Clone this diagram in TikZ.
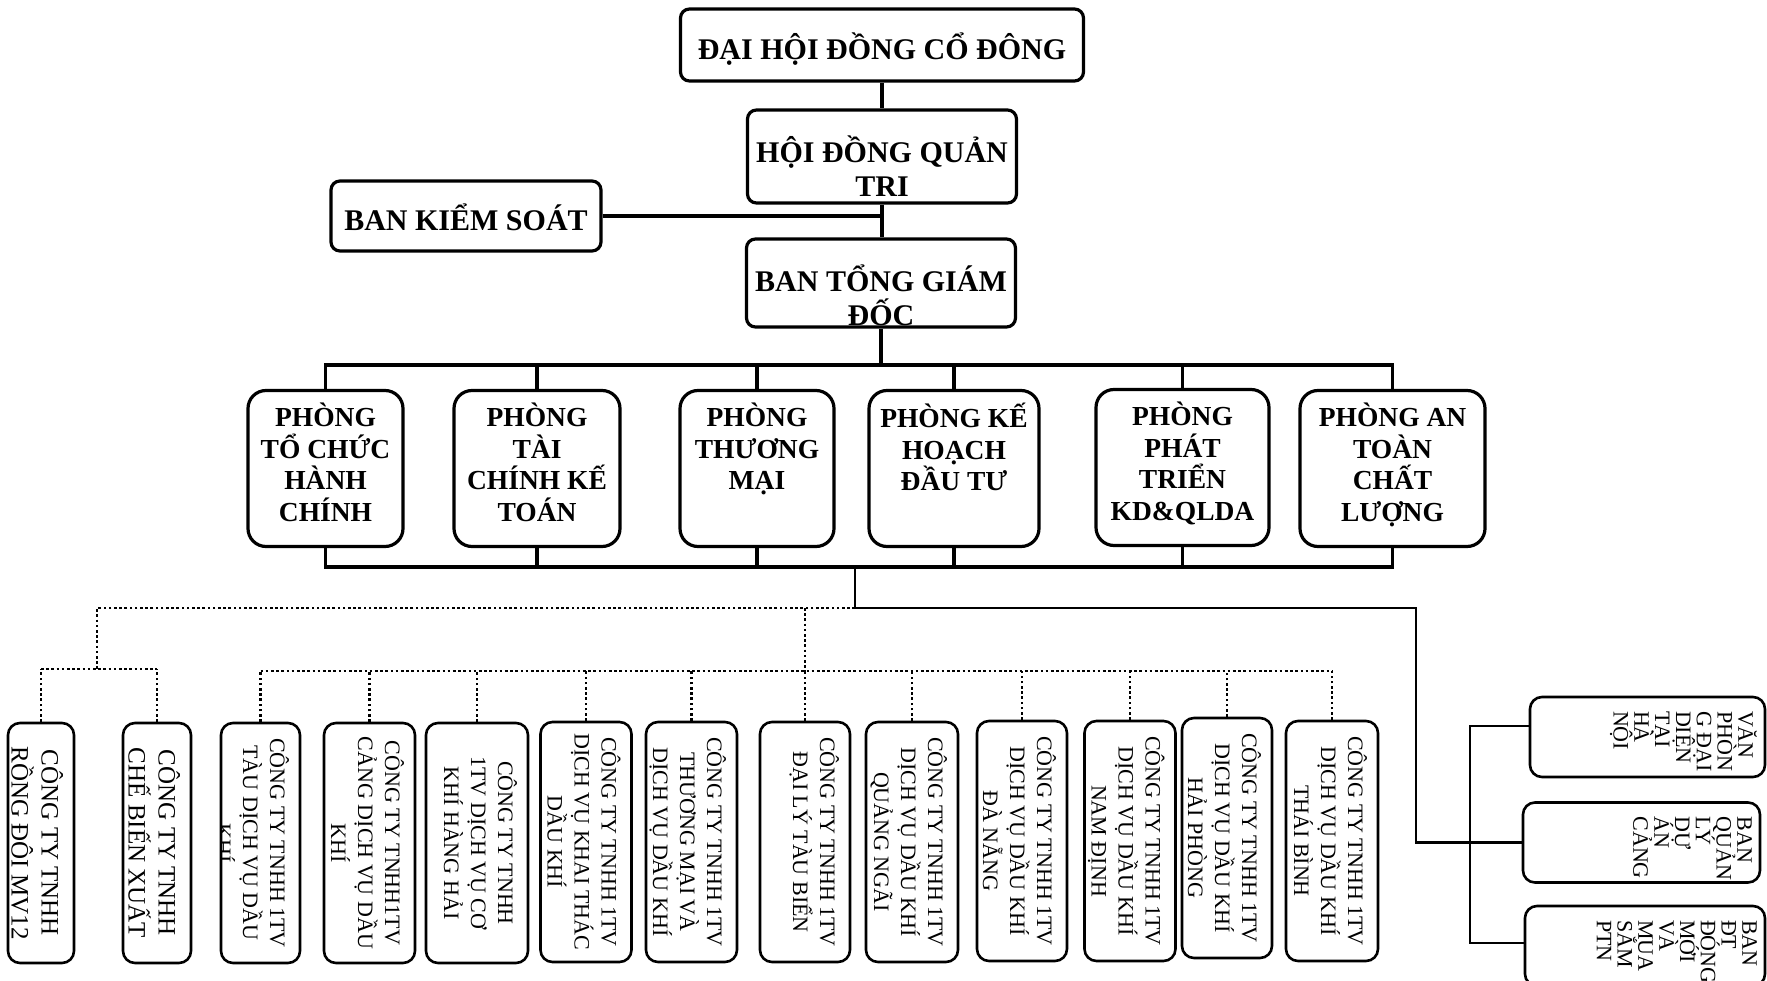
\documentclass[tikz,border=0pt]{standalone}
\usepackage{fontspec}
\setmainfont{Liberation Serif}
\newcommand{\bigfont}{\bfseries\fontsize{30}{34}\selectfont}
\newcommand{\roomfont}{\bfseries\fontsize{27.5}{31.6}\selectfont}
\newcommand{\ctyfont}{\fontsize{22}{27}\selectfont}
\newcommand{\ctybigfont}{\fontsize{25}{30}\selectfont}
\newcommand{\unitfont}{\fontsize{22}{20.8}\selectfont\lineskiplimit=-100pt}
% text set from the top of a box, cut off by its border
\newcommand{\toptext}[4]{\node (#1) [inner sep=0pt] at (path picture bounding box.center)
  {\parbox[c][#2][t]{#3}{\bigfont\centering\vspace*{26pt}#4}};}
\newcommand{\roomtext}[3]{\node (#1) [inner sep=0pt] at (path picture bounding box.center)
  {\parbox[c][156pt][t]{#2}{\roomfont\centering\vspace*{12.5pt}#3}};}
\newcommand{\ctytext}[4]{\node (#1) [rotate=-90,inner sep=0pt] at (path picture bounding box.center)
  {\parbox[c][#2][t]{240pt}{#3\centering\vspace*{11pt}#4}};}
\newcommand{\unittext}[3]{\node (#1) [rotate=-90,inner sep=0pt] at (path picture bounding box.center)
  {\parbox[c][#2][t]{80pt}{\unitfont\raggedright\leftskip=14pt\vspace*{8pt}#3}};}
\tikzset{
  upbox/.style={draw, line width=3.2pt, rounded corners=9pt, inner sep=0pt, font=\bigfont, align=center},
  room/.style={draw, line width=3.2pt, rounded corners=18pt, inner sep=0pt, minimum height=156pt},
  cty/.style={draw, line width=2.6pt, rounded corners=12pt, inner sep=0pt, minimum height=240pt},
  unitbox/.style={draw, line width=2.6pt, rounded corners=12pt, inner sep=0pt, minimum height=80pt},
  link/.style={line width=3.4pt},
  sidelink/.style={line width=2.8pt},
  dotlink/.style={line width=2.6pt, dash pattern=on 2.6pt off 2.6pt},
}

\begin{document}
\begin{tikzpicture}[x=1pt,y=-1pt]
  \path[use as bounding box] (0,0) rectangle (1767,981);
  \clip (0,0) rectangle (1767,981);

  % management
  \node (dhcd) [upbox, minimum width=403pt, minimum height=72pt, text height=30pt, text depth=0pt] at (882,45) {ĐẠI HỘI ĐỒNG CỔ ĐÔNG};
  \node (hdqt) [upbox, minimum width=269pt, minimum height=93pt,
    path picture={\toptext{hdqtt}{93pt}{269pt}{HỘI ĐỒNG QUẢN\\TRI}}] at (882,156.5) {};
  \node (bks) [upbox, minimum width=270pt, minimum height=70pt, text height=30pt, text depth=0pt] at (466,216) {BAN KIỂM SOÁT};
  \node (btgd) [upbox, minimum width=269pt, minimum height=88pt,
    path picture={\toptext{btgdt}{88pt}{269pt}{BAN TỔNG GIÁM\\ĐỐC}}] at (881,283) {};

  \draw[link] (dhcd) -- (hdqt);
  \draw[link] (hdqt.south) -- (hdqt.south |- btgd.north);
  \draw[link] (bks) -- (bks -| hdqt.south);

  % departments
  \node (p1) [room, minimum width=155pt, path picture={\roomtext{p1t}{155pt}{PHÒNG\\TỔ CHỨC\\HÀNH\\CHÍNH}}] at (325.5,468.5) {};
  \node (p2) [room, minimum width=166pt, path picture={\roomtext{p2t}{166pt}{PHÒNG\\TÀI\\CHÍNH KẾ\\TOÁN}}] at (537,468.5) {};
  \node (p3) [room, minimum width=154pt, path picture={\roomtext{p3t}{154pt}{PHÒNG\\THƯƠNG\\MẠI}}] at (757,468.5) {};
  \node (p4) [room, minimum width=170pt, path picture={\roomtext{p4t}{170pt}{PHÒNG KẾ\\HOẠCH\\ĐẦU TƯ}}] at (954,468.5) {};
  \node (p5) [room, minimum width=173pt, path picture={\roomtext{p5t}{173pt}{PHÒNG\\PHÁT\\TRIỂN\\KD\&QLDA}}] at (1182.5,467.5) {};
  \node (p6) [room, minimum width=185pt, path picture={\roomtext{p6t}{185pt}{PHÒNG AN\\TOÀN\\CHẤT\\LƯỢNG}}] at (1392.5,468.5) {};

  \coordinate (ubus) at (881,365);
  \coordinate (lbus) at (855,567);
  \draw[link] (btgd) -- (btgd |- ubus);
  \draw[link] (p1.north) -- (p1.north |- ubus) -- (p6.north |- ubus) -- (p6.north);
  \draw[link] (p1.south) -- (p1.south |- lbus) -- (p6.south |- lbus) -- (p6.south);
  \foreach \p in {p2,p3,p4,p5} {
    \draw[link] (\p.north) -- (\p.north |- ubus);
    \draw[link] (\p.south) -- (\p.south |- lbus);
  }

  % companies
  \node (c1) [cty, minimum width=66pt, path picture={\ctytext{c1t}{66pt}{\ctybigfont}{CÔNG TY TNHH\\RỒNG ĐÔI MV12}}] at (41,843) {};
  \node (c2) [cty, minimum width=68pt, path picture={\ctytext{c2t}{68pt}{\ctybigfont}{CÔNG TY TNHH\\CHẾ BIẾN XUẤT}}] at (157,843) {};
  \node (c3) [cty, minimum width=79pt, path picture={\ctytext{c3t}{79pt}{\ctyfont}{CÔNG TY TNHH 1TV\\TÀU DỊCH VỤ DẦU\\KHÍ}}] at (260.5,843) {};
  \node (c4) [cty, minimum width=91pt, path picture={\ctytext{c4t}{91pt}{\ctyfont}{CÔNG TY TNHH1TV\\CẢNG DỊCH VỤ DẦU\\KHÍ}}] at (369.5,843) {};
  \node (c5) [cty, minimum width=102pt, path picture={\ctytext{c5t}{102pt}{\ctyfont}{CÔNG TY TNHH\\1TV DỊCH VỤ CƠ\\KHÍ HÀNG HẢI}}] at (477,843) {};
  \node (c6) [cty, minimum width=91pt, path picture={\ctytext{c6t}{91pt}{\ctyfont}{CÔNG TY TNHH 1TV\\DỊCH VỤ KHAI THÁC\\DẦU KHÍ}}] at (586,842) {};
  \node (c7) [cty, minimum width=91pt, path picture={\ctytext{c7t}{91pt}{\ctyfont}{CÔNG TY TNHH 1TV\\THƯƠNG MẠI VÀ\\DỊCH VỤ DẦU KHÍ}}] at (691.5,842) {};
  \node (c8) [cty, minimum width=90pt, path picture={\ctytext{c8t}{90pt}{\ctyfont}{CÔNG TY TNHH 1TV\\ĐẠI LÝ TÀU BIỂN}}] at (805,842) {};
  \node (c9) [cty, minimum width=92pt, path picture={\ctytext{c9t}{92pt}{\ctyfont}{CÔNG TY TNHH 1TV\\DỊCH VỤ DẦU KHÍ\\QUẢNG NGÃI}}] at (912,842) {};
  \node (c10) [cty, minimum width=90pt, path picture={\ctytext{c10t}{90pt}{\ctyfont}{CÔNG TY TNHH 1TV\\DỊCH VỤ DẦU KHÍ\\ĐÀ NẴNG}}] at (1022,841) {};
  \node (c11) [cty, minimum width=91pt, path picture={\ctytext{c11t}{91pt}{\ctyfont}{CÔNG TY TNHH 1TV\\DỊCH VỤ DẦU KHÍ\\NAM ĐỊNH}}] at (1130,841) {};
  \node (c12) [cty, minimum width=90pt, path picture={\ctytext{c12t}{90pt}{\ctyfont}{CÔNG TY TNHH 1TV\\DỊCH VỤ DẦU KHÍ\\HẢI PHÒNG}}] at (1227,838) {};
  \node (c13) [cty, minimum width=92pt, path picture={\ctytext{c13t}{92pt}{\ctyfont}{CÔNG TY TNHH 1TV\\DỊCH VỤ DẦU KHÍ\\THÁI BÌNH}}] at (1332,841) {};

  % offices
  \node (r1) [unitbox, minimum width=235pt, path picture={\unittext{r1t}{235pt}{VĂN\\PHÒN\\G ĐẠI\\DIỆN\\TẠI\\HÀ\\NỘI}}] at (1647.5,737) {};
  \node (r2) [unitbox, minimum width=237pt, path picture={\unittext{r2t}{237pt}{BAN\\QUẢN\\LÝ\\DỰ\\ÁN\\CẢNG}}] at (1641.5,842.5) {};
  \node (r3) [unitbox, minimum width=240pt, path picture={\unittext{r3t}{240pt}{BAN\\ĐT\\ĐÓNG\\MỚI\\VÀ\\MUA\\SẮM\\PTN}}] at (1645,946) {};

  \coordinate (split) at (855,608);
  \coordinate (turn) at (1416,608);
  \coordinate (rtop) at (1470,726);
  \coordinate (rbot) at (1470,943);
  \draw[sidelink] (lbus) -- (split) -- (turn) |- (r2.west);
  \draw[sidelink] (rtop -| r1.west) -- (rtop) -- (rbot) -- (rbot -| r3.west);

  \coordinate (dleft) at (97,608);
  \coordinate (gbus1) at (97,669);
  \coordinate (gbus2) at (805,671);
  \draw[dotlink] (split) -- (dleft) -- (gbus1);
  \draw[dotlink] (c1.north |- gbus1) -- (c2.north |- gbus1);
  \draw[dotlink] (c8.north |- split) -- (gbus2);
  \draw[dotlink] (c3.north |- gbus2) -- (c13.north |- gbus2);
  \foreach \c in {c1,c2} \draw[dotlink] (\c.north) -- (\c.north |- gbus1);
  \foreach \c in {c3,c4,c5,c6,c7,c8,c9,c10,c11,c12,c13} \draw[dotlink] (\c.north) -- (\c.north |- gbus2);
\end{tikzpicture}
\end{document}
